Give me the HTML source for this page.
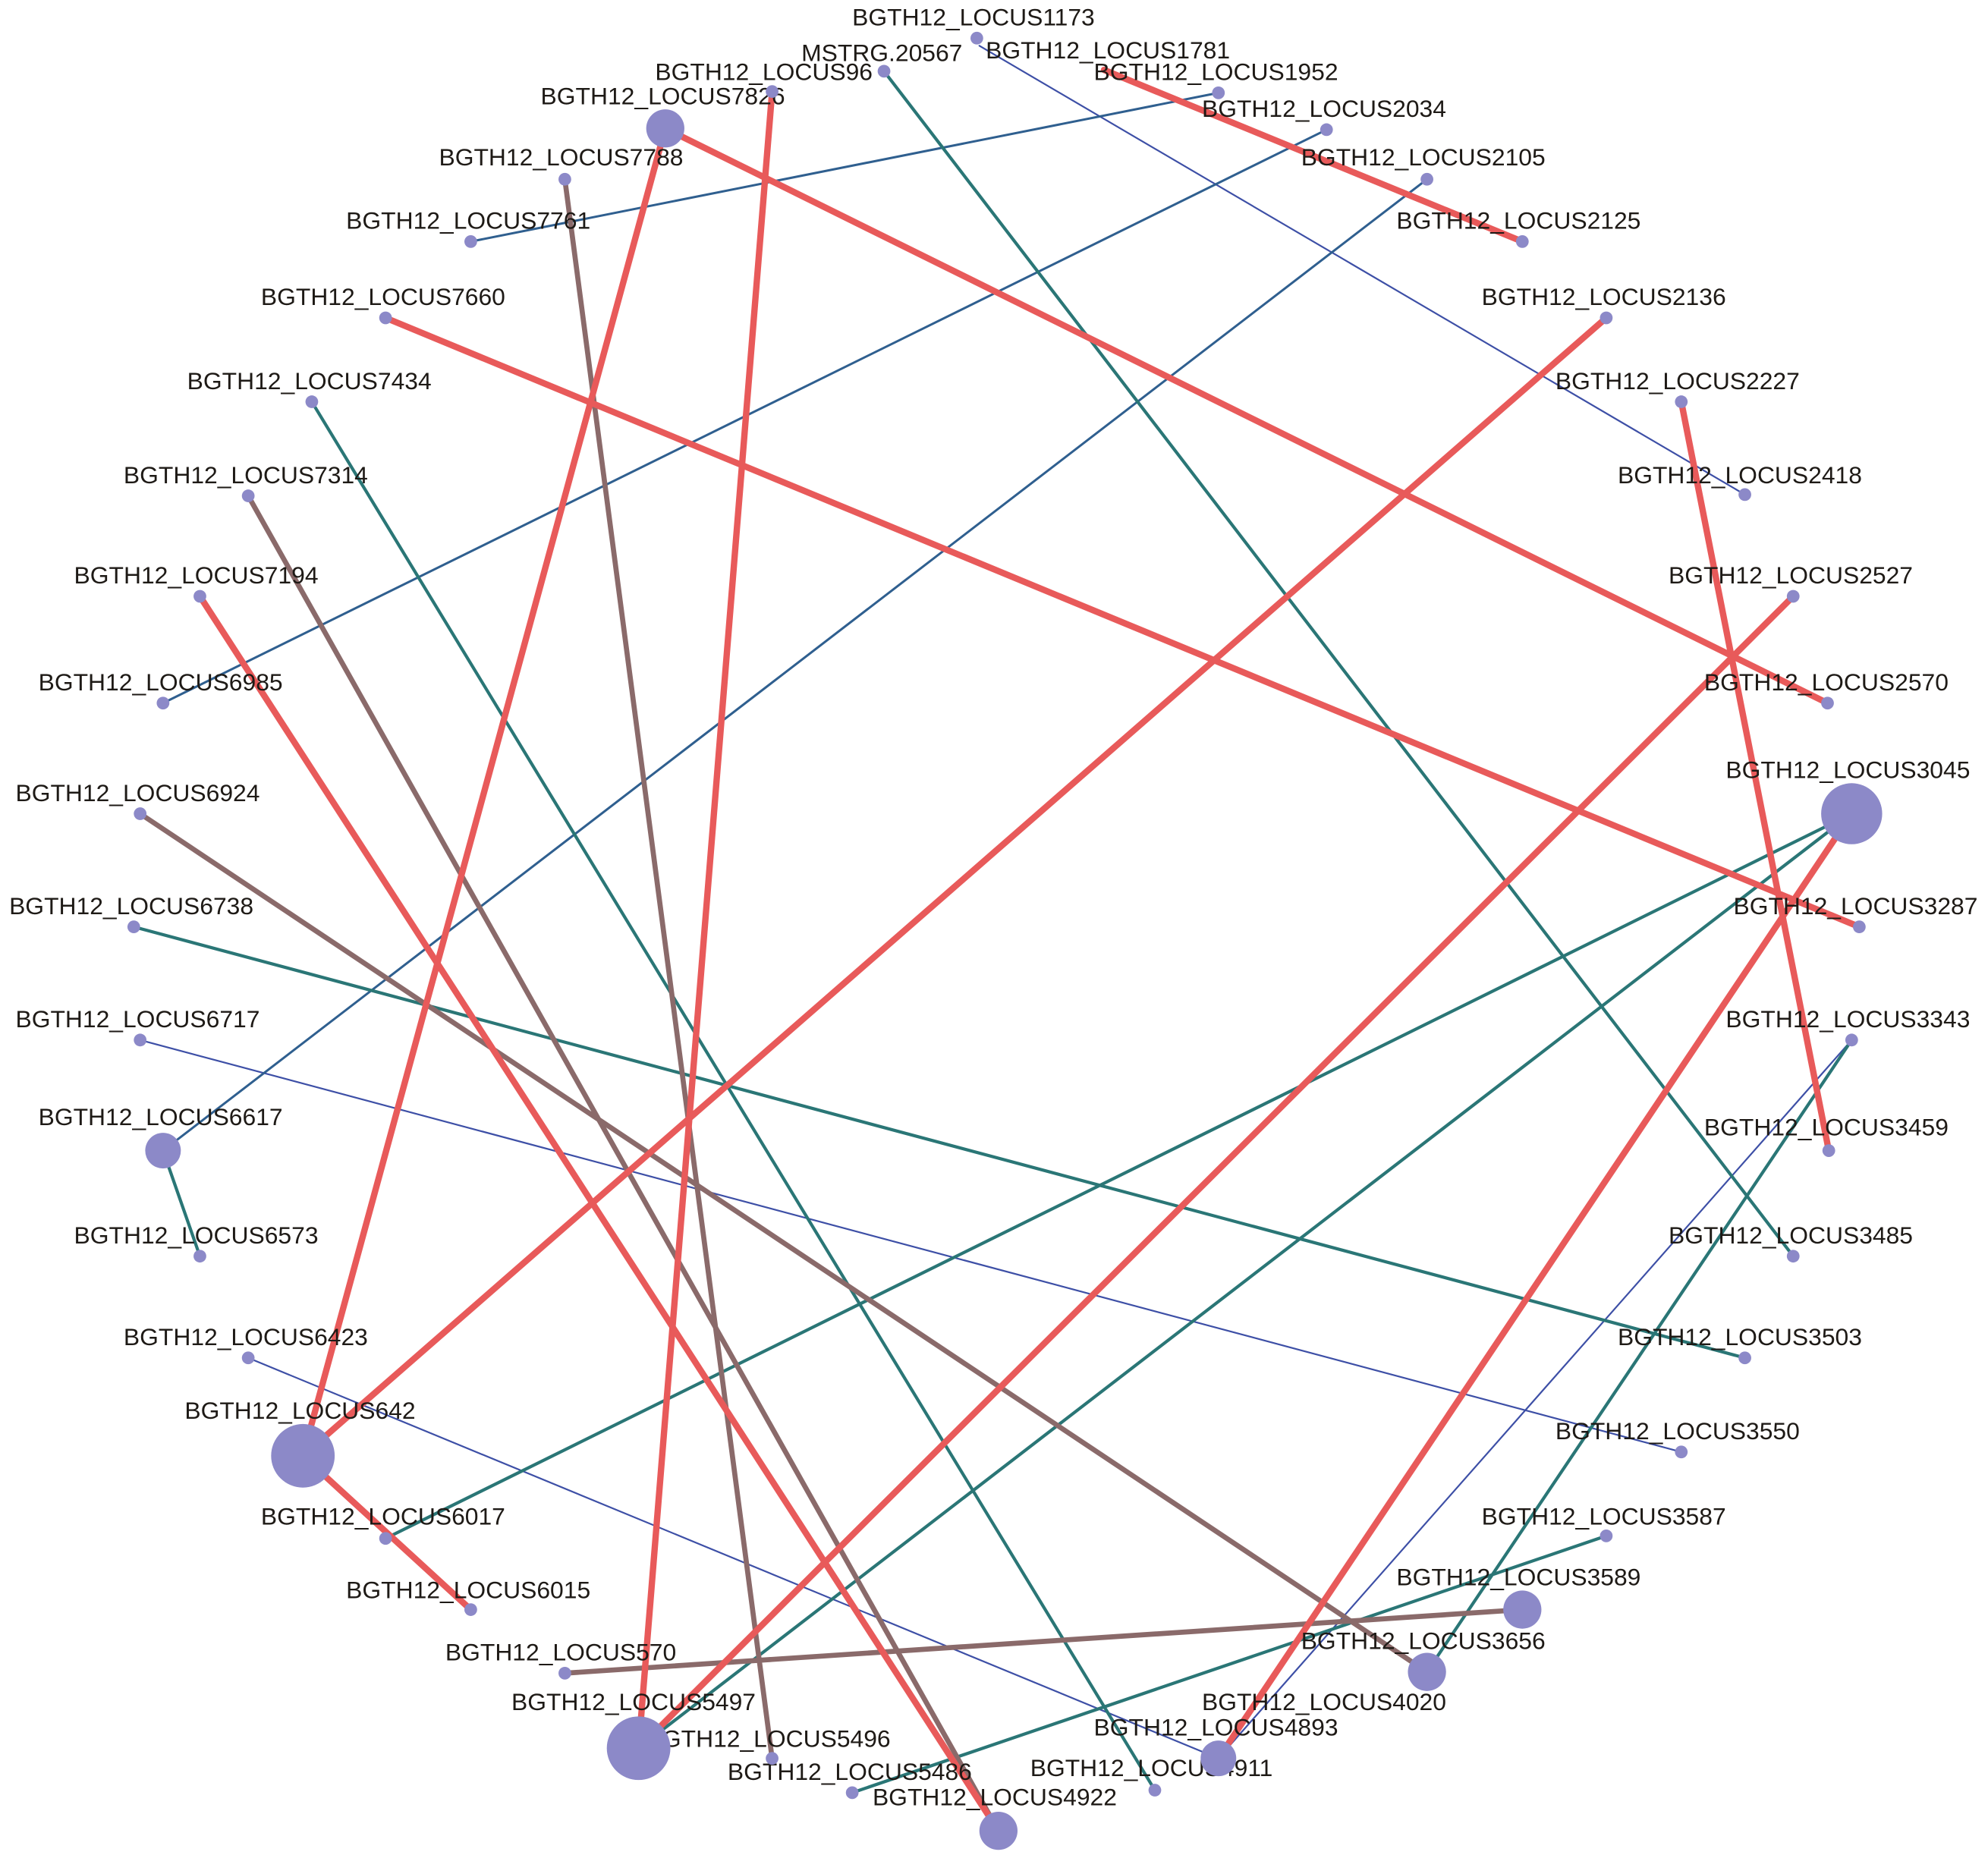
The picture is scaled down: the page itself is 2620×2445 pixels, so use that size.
<!DOCTYPE html>
<html><head><meta charset="utf-8"><style>
html,body{margin:0;padding:0;background:#fff;}
svg{display:block;}
text{font-family:"Liberation Sans",Arial,sans-serif;font-size:19px;fill:#1e1a16;}
</style></head><body>
<svg width="2620" height="2445" viewBox="0 0 1563 1459" xmlns="http://www.w3.org/2000/svg">
<g fill="none" stroke-linecap="round">
<g stroke="#3d4fa6" stroke-width="1.3">
<line x1="770" y1="36" x2="1372" y2="389"/>
<line x1="110" y1="818" x2="1322" y2="1142"/>
<line x1="195" y1="1068" x2="958" y2="1383"/>
<line x1="958" y1="1383" x2="1456" y2="818"/>
</g>
<g stroke="#2f5f8f" stroke-width="1.8">
<line x1="958" y1="73" x2="370" y2="190"/>
<line x1="1043" y1="102" x2="128" y2="553"/>
<line x1="1122" y1="141" x2="128" y2="905"/>
</g>
<g stroke="#2a7676" stroke-width="2.5">
<line x1="695" y1="56" x2="1410" y2="988"/>
<line x1="245" y1="316" x2="908" y2="1408"/>
<line x1="1456" y1="640" x2="303" y2="1210"/>
<line x1="1456" y1="640" x2="502" y2="1375"/>
<line x1="105" y1="729" x2="1372" y2="1068"/>
<line x1="1456" y1="818" x2="1122" y2="1315"/>
<line x1="128" y1="905" x2="157" y2="988"/>
<line x1="1263" y1="1208" x2="670" y2="1410"/>
</g>
<g stroke="#8a6a6a" stroke-width="4">
<line x1="444" y1="141" x2="607" y2="1383"/>
<line x1="195" y1="390" x2="785" y2="1440"/>
<line x1="110" y1="640" x2="1122" y2="1315"/>
<line x1="1197" y1="1266" x2="444" y2="1316"/>
</g>
<g stroke="#e85a5a" stroke-width="5">
<line x1="607" y1="72" x2="502" y2="1375"/>
<line x1="868" y1="55" x2="1197" y2="190"/>
<line x1="523" y1="101" x2="1437" y2="553"/>
<line x1="523" y1="101" x2="238" y2="1145"/>
<line x1="303" y1="250" x2="1462" y2="729"/>
<line x1="1263" y1="250" x2="238" y2="1145"/>
<line x1="1322" y1="316" x2="1438" y2="905"/>
<line x1="157" y1="469" x2="785" y2="1440"/>
<line x1="1410" y1="469" x2="502" y2="1375"/>
<line x1="1456" y1="640" x2="958" y2="1383"/>
<line x1="238" y1="1145" x2="370" y2="1266"/>
</g>
</g>
<g>
<text x="670" y="20">BGTH12_LOCUS1173</text>
<text x="630" y="48">MSTRG.20567</text>
<text x="775" y="46">BGTH12_LOCUS1781</text>
<text x="515" y="63">BGTH12_LOCUS96</text>
<text x="860" y="63">BGTH12_LOCUS1952</text>
<text x="425" y="82">BGTH12_LOCUS7826</text>
<text x="945" y="92">BGTH12_LOCUS2034</text>
<text x="345" y="130">BGTH12_LOCUS7788</text>
<text x="1023" y="130">BGTH12_LOCUS2105</text>
<text x="272" y="180">BGTH12_LOCUS7761</text>
<text x="1098" y="180">BGTH12_LOCUS2125</text>
<text x="205" y="240">BGTH12_LOCUS7660</text>
<text x="1165" y="240">BGTH12_LOCUS2136</text>
<text x="147" y="306">BGTH12_LOCUS7434</text>
<text x="1223" y="306">BGTH12_LOCUS2227</text>
<text x="97" y="380">BGTH12_LOCUS7314</text>
<text x="1272" y="380">BGTH12_LOCUS2418</text>
<text x="58" y="459">BGTH12_LOCUS7194</text>
<text x="1312" y="459">BGTH12_LOCUS2527</text>
<text x="30" y="543">BGTH12_LOCUS6985</text>
<text x="1340" y="543">BGTH12_LOCUS2570</text>
<text x="12" y="630">BGTH12_LOCUS6924</text>
<text x="1357" y="612">BGTH12_LOCUS3045</text>
<text x="7" y="719">BGTH12_LOCUS6738</text>
<text x="1363" y="719">BGTH12_LOCUS3287</text>
<text x="12" y="808">BGTH12_LOCUS6717</text>
<text x="1357" y="808">BGTH12_LOCUS3343</text>
<text x="30" y="885">BGTH12_LOCUS6617</text>
<text x="1340" y="893">BGTH12_LOCUS3459</text>
<text x="58" y="978">BGTH12_LOCUS6573</text>
<text x="1312" y="978">BGTH12_LOCUS3485</text>
<text x="97" y="1058">BGTH12_LOCUS6423</text>
<text x="1272" y="1058">BGTH12_LOCUS3503</text>
<text x="145" y="1116">BGTH12_LOCUS642</text>
<text x="1223" y="1132">BGTH12_LOCUS3550</text>
<text x="205" y="1199">BGTH12_LOCUS6017</text>
<text x="1165" y="1199">BGTH12_LOCUS3587</text>
<text x="272" y="1257">BGTH12_LOCUS6015</text>
<text x="1098" y="1247">BGTH12_LOCUS3589</text>
<text x="350" y="1306">BGTH12_LOCUS570</text>
<text x="1023" y="1297">BGTH12_LOCUS3656</text>
<text x="402" y="1345">BGTH12_LOCUS5497</text>
<text x="945" y="1345">BGTH12_LOCUS4020</text>
<text x="508" y="1374">BGTH12_LOCUS5496</text>
<text x="860" y="1365">BGTH12_LOCUS4893</text>
<text x="572" y="1400">BGTH12_LOCUS5486</text>
<text x="810" y="1397">BGTH12_LOCUS4911</text>
<text x="686" y="1420">BGTH12_LOCUS4922</text>
</g>
<g fill="#8c89c8">
<circle cx="768" cy="30" r="5"/>
<circle cx="695" cy="56" r="5"/>
<circle cx="607" cy="72" r="5"/>
<circle cx="958" cy="73" r="5"/>
<circle cx="523" cy="101" r="15"/>
<circle cx="1043" cy="102" r="5"/>
<circle cx="444" cy="141" r="5"/>
<circle cx="1122" cy="141" r="5"/>
<circle cx="370" cy="190" r="5"/>
<circle cx="1197" cy="190" r="5"/>
<circle cx="303" cy="250" r="5"/>
<circle cx="1263" cy="250" r="5"/>
<circle cx="245" cy="316" r="5"/>
<circle cx="1322" cy="316" r="5"/>
<circle cx="195" cy="390" r="5"/>
<circle cx="1372" cy="389" r="5"/>
<circle cx="157" cy="469" r="5"/>
<circle cx="1410" cy="469" r="5"/>
<circle cx="128" cy="553" r="5"/>
<circle cx="1437" cy="553" r="5"/>
<circle cx="110" cy="640" r="5"/>
<circle cx="1456" cy="640" r="24"/>
<circle cx="105" cy="729" r="5"/>
<circle cx="1462" cy="729" r="5"/>
<circle cx="110" cy="818" r="5"/>
<circle cx="1456" cy="818" r="5"/>
<circle cx="128" cy="905" r="14"/>
<circle cx="1438" cy="905" r="5"/>
<circle cx="157" cy="988" r="5"/>
<circle cx="1410" cy="988" r="5"/>
<circle cx="195" cy="1068" r="5"/>
<circle cx="1372" cy="1068" r="5"/>
<circle cx="238" cy="1145" r="25"/>
<circle cx="1322" cy="1142" r="5"/>
<circle cx="303" cy="1210" r="5"/>
<circle cx="1263" cy="1208" r="5"/>
<circle cx="370" cy="1266" r="5"/>
<circle cx="1197" cy="1266" r="15"/>
<circle cx="444" cy="1316" r="5"/>
<circle cx="1122" cy="1315" r="15"/>
<circle cx="502" cy="1375" r="25"/>
<circle cx="607" cy="1383" r="5"/>
<circle cx="958" cy="1383" r="14"/>
<circle cx="670" cy="1410" r="5"/>
<circle cx="908" cy="1408" r="5"/>
<circle cx="785" cy="1440" r="15"/>
</g>
</svg>
</body></html>
